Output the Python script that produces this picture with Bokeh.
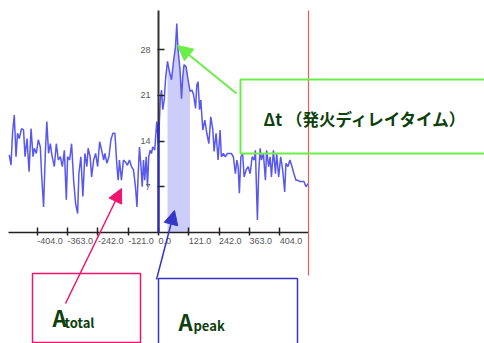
from bokeh.plotting import figure
from bokeh.models import (Range1d, LinearAxis, FixedTicker, CustomJSTickFormatter,
                          BoxAnnotation, Label, Arrow, NormalHead)
from bokeh.core.properties import value
from bokeh.embed import file_html
from bokeh.resources import INLINE

# ---- signal (time vs. amplitude) ----
signal_t = [
    -596, -589, -583, -576, -569, -563, -556, -547, -539, -533,
    -525, -517, -509, -501, -496, -488, -480, -472, -467, -459,
    -452, -446, -439, -432, -426, -416, -408, -400, -392, -384,
    -376, -368, -363, -355, -347, -339, -331, -323, -318, -310,
    -302, -294, -286, -281, -273, -267, -259, -251, -243, -235,
    -227, -219, -214, -206, -198, -190, -182, -174, -166, -161,
    -156, -148, -140, -132, -124, -116, -108, -100, -92, -86,
    -81, -76, -70, -65, -60, -55, -49, -44, -39, -33,
    -28, -23, -15, -7, 0, 7, 12, 17, 23, 28,
    36, 44, 52, 60, 68, 73, 78, 86, 92, 97,
    102, 110, 118, 126, 134, 140, 148, 153, 158, 164,
    169, 177, 185, 193, 201, 209, 217, 222, 230, 238,
    246, 251, 259, 267, 275, 283, 291, 299, 307, 313,
    318, 323, 329, 336, 342, 350, 358, 366, 374, 382,
    387, 395, 400, 406, 411, 419, 427, 432, 440, 446,
    451, 459, 467, 472, 480, 488, 496, 504, 509, 517,
    525, 533, 541, 549, 557, 565, 573, 581, 589, 597,
]
signal_v = [
    11.9, 10.3, 15.2, 18.0, 11.6, 15.2, 14.4, 15.9, 15.7, 11.6,
    14.4, 9.3, 15.9, 11.6, 12.9, 12.1, 14.2, 13.1, 9.0, 3.9,
    12.1, 17.0, 12.1, 13.6, 11.9, 10.1, 13.6, 11.1, 11.6, 10.1,
    12.6, 5.0, 11.6, 11.1, 13.6, 8.0, 4.4, 2.9, 9.0, 11.6,
    5.5, 12.1, 10.1, 12.9, 11.6, 8.5, 11.1, 12.1, 10.1, 13.9,
    12.6, 11.1, 12.1, 10.6, 11.6, 14.2, 15.2, 15.2, 10.1, 8.0,
    11.1, 8.0, 11.1, 10.8, 10.3, 11.1, 10.1, 9.6, 7.0, 3.9,
    9.0, 13.1, 10.1, 7.0, 11.1, 8.0, 11.6, 7.0, 11.6, 12.6,
    12.1, 13.1, 12.6, 17.0, 13.6, 20.3, 21.8, 18.8, 20.3, 23.4,
    26.2, 24.6, 23.4, 26.2, 28.5, 32.0, 28.0, 24.9, 20.5, 23.9,
    25.7, 25.4, 23.4, 21.6, 21.8, 21.1, 19.0, 22.6, 23.1, 18.8,
    20.3, 15.7, 17.2, 15.2, 13.6, 17.7, 15.7, 12.4, 15.2, 11.1,
    15.7, 11.6, 12.1, 11.6, 12.1, 12.1, 12.1, 11.6, 9.0, 11.1,
    10.1, 6.0, 11.6, 12.1, 8.5, 9.6, 10.1, 9.0, 11.6, 11.1,
    12.6, 1.9, 9.0, 12.9, 11.1, 12.1, 8.0, 12.6, 10.1, 11.6,
    8.5, 12.6, 9.0, 12.1, 8.5, 11.6, 9.6, 6.2, 10.6, 10.1,
    11.1, 10.1, 9.0, 8.0, 8.0, 7.8, 7.8, 7.8, 7.0, 7.5,
]

# peak window (shaded area A_peak)
peak_start = 36
peak_end = 126

# firing reference marker at t = 0
zero_marker_height = 16.7

# axis ticks and labels
x_ticks = [-484, -363, -242, -121, 0, 121, 242, 363, 484]
x_tick_labels = ["-404.0", "-363.0", "-242.0", "-121.0", "0.0",
                 "121.0", "242.0", "363.0", "404.0"]
y_ticks = [7, 14, 21, 28]

W, H = 484, 343


def up(py):
    """screen y measured from the top edge -> Bokeh screen y (from bottom)"""
    return H - py


p = figure(width=W, height=H, output_backend="svg", toolbar_location=None,
           x_range=Range1d(-631, 1302), y_range=Range1d(-17.0, 35.53),
           x_axis_type=None, y_axis_type=None, min_border=0)
p.outline_line_color = None
p.background_fill_color = "white"
p.border_fill_color = "white"

# shaded peak area
peak_x = [t for t in signal_t if peak_start <= t <= peak_end]
peak_y = [v for t, v in zip(signal_t, signal_v) if peak_start <= t <= peak_end]
p.varea(x=peak_x, y1=[0] * len(peak_x), y2=peak_y, fill_color="#cdcdf9")

# signal trace
p.line(signal_t, signal_v, line_color="#5858ee", line_width=1.5)

# axes crossing at the origin
xaxis = LinearAxis(fixed_location=0, bounds=(-598, 600),
                   ticker=FixedTicker(ticks=x_ticks),
                   formatter=CustomJSTickFormatter(code="return ''"))
xaxis.axis_line_color = "#222222"
xaxis.axis_line_width = 1.5
xaxis.major_tick_line_color = "#222222"
xaxis.major_tick_line_width = 1.5
xaxis.major_tick_in = 5
xaxis.major_tick_out = 3
xaxis.minor_tick_line_color = None
p.add_layout(xaxis, "below")

yaxis = LinearAxis(fixed_location=0, bounds=(0, 34),
                   ticker=FixedTicker(ticks=y_ticks))
yaxis.axis_line_color = "#333333"
yaxis.axis_line_width = 2
yaxis.major_tick_line_color = "#222222"
yaxis.major_tick_line_width = 1.5
yaxis.major_tick_in = 6
yaxis.major_tick_out = 1
yaxis.minor_tick_line_color = None
yaxis.major_label_standoff = 7
yaxis.major_label_text_font = "Liberation Sans"
yaxis.major_label_text_font_size = "9px"
yaxis.major_label_text_color = "#555555"
p.add_layout(yaxis, "left")

# x tick labels, left-aligned at each tick
p.text(x=x_ticks, y=[0] * len(x_ticks), text=x_tick_labels,
       text_align="left", text_baseline="top", y_offset=6,
       text_font=value("Liberation Sans"), text_font_size="9px",
       text_color="#555555")

# t = 0 marker
p.segment(x0=[0], y0=[0], x1=[0], y1=[zero_marker_height],
          line_color="#2a2ac8", line_width=2, level="overlay")

# right-hand limit line
p.add_layout(Arrow(end=None, x_start=308, y_start=up(10), x_end=308, y_end=up(275),
                   start_units="screen", end_units="screen",
                   line_color="#f25a5a", line_width=1.2))

# annotation boxes
green = "#6aee48"
pink = "#f0146e"
blue = "#3535c8"
dark_green = "#0d400d"


def frame_box(left, right, top, bottom, color, width):
    return BoxAnnotation(left=left, right=right, top=top, bottom=bottom,
                         left_units="screen", right_units="screen",
                         top_units="screen", bottom_units="screen",
                         fill_color=None, line_color=color, line_alpha=1.0,
                         line_width=width)


p.add_layout(frame_box(240, 492, up(79), up(153), green, 2))
p.add_layout(frame_box(32, 140, up(273), up(342), pink, 1.5))
p.add_layout(frame_box(158, 297, up(278), -6, blue, 1.5))

# arrows
p.add_layout(Arrow(x_start=236, y_start=up(93), x_end=177, y_end=up(45),
                   start_units="screen", end_units="screen",
                   line_color=green, line_width=2,
                   end=NormalHead(size=15, fill_color=green, line_color=green)))
p.add_layout(Arrow(x_start=65, y_start=up(303), x_end=121, y_end=up(188),
                   start_units="screen", end_units="screen",
                   line_color=pink, line_width=1.5,
                   end=NormalHead(size=14, fill_color=pink, line_color=pink)))
p.add_layout(Arrow(x_start=156, y_start=up(279), x_end=174, y_end=up(210),
                   start_units="screen", end_units="screen",
                   line_color=blue, line_width=1.5,
                   end=NormalHead(size=14, fill_color=blue, line_color=blue)))

# labels
jp_font = "Noto Sans CJK JP"
p.add_layout(Label(x=263, y=up(118), x_units="screen", y_units="screen",
                   text="Δt （発火ディレイタイム）", text_font=jp_font,
                   text_font_style="bold", text_font_size="16.5px",
                   text_color=dark_green, text_baseline="middle"))
p.add_layout(Label(x=52, y=up(316), x_units="screen", y_units="screen",
                   text="A", text_font=jp_font, text_font_style="bold",
                   text_font_size="22px", text_color=dark_green,
                   text_baseline="alphabetic"))
p.add_layout(Label(x=64, y=up(322), x_units="screen", y_units="screen",
                   text="total", text_font=jp_font, text_font_style="bold",
                   text_font_size="13px", text_color=dark_green,
                   text_baseline="alphabetic"))
p.add_layout(Label(x=178, y=up(320), x_units="screen", y_units="screen",
                   text="A", text_font=jp_font, text_font_style="bold",
                   text_font_size="22px", text_color=dark_green,
                   text_baseline="alphabetic"))
p.add_layout(Label(x=193, y=up(325), x_units="screen", y_units="screen",
                   text="peak", text_font=jp_font, text_font_style="bold",
                   text_font_size="13px", text_color=dark_green,
                   text_baseline="alphabetic"))

open("out.html", "w").write(file_html(p, INLINE))
